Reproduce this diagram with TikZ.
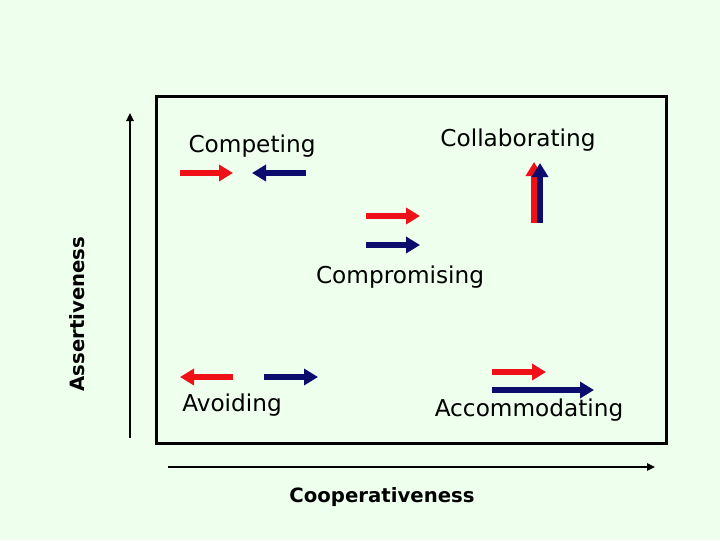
\documentclass[tikz,border=0pt]{standalone}
\usepackage{fontspec}
\setmainfont{DejaVu Sans}
\usepackage{tikz}
\usetikzlibrary{arrows.meta,positioning}
\definecolor{bgmint}{RGB}{238,255,238}
\definecolor{arrred}{RGB}{240,16,24}
\definecolor{arrblue}{RGB}{12,12,110}

\begin{document}
\begin{tikzpicture}[x=0.025cm, y=-0.025cm,
  style label/.style={inner sep=0pt, font=\fontsize{16.5}{18}\selectfont},
  axis label/.style={inner sep=0pt, font=\fontsize{14}{16}\selectfont\bfseries},
  redarr/.style={-{Triangle[length=0.35cm, width=0.4cm]}, line width=0.15cm,
    draw=arrred},
  bluearr/.style={-{Triangle[length=0.35cm, width=0.4cm]}, line width=0.15cm,
    draw=arrblue},
  axis/.style={-{Triangle[length=0.2cm, width=0.18cm]}, line width=0.07cm},
]
  \fill[bgmint] (0,0) rectangle (720,540);
  \useasboundingbox (0,0) rectangle (720,540);
  \draw[line width=0.075cm] (156,96) rectangle (666,443);

  % axes
  \coordinate (ylow) at (130,438);
  \coordinate (yhigh) at (130,113);
  \coordinate (xlow) at (168,467);
  \coordinate (xhigh) at (655,467);
  \draw[axis] (ylow) -- (yhigh);
  \draw[axis] (xlow) -- (xhigh);
  \node[axis label, rotate=90] (assert) at (77,314) {Assertiveness};
  \node[axis label] (coop) at (382,497) {Cooperativeness};

  % the five styles
  \node[style label] (competing) at (252,146) {Competing};
  \node[style label] (collab) at (518,140) {Collaborating};
  \node[style label] (compro) at (400,277) {Compromising};
  \node[style label] (avoid) at (232,405) {Avoiding};
  \node[style label] (accom) at (529,410) {Accommodating};

  \coordinate (cp1) at (180,173);
  \coordinate (cp2) at (233,173);
  \coordinate (cp3) at (306,173);
  \coordinate (cp4) at (252,173);
  \draw[redarr] (cp1) -- (cp2);
  \draw[bluearr] (cp3) -- (cp4);

  \coordinate (co1) at (534,223);
  \coordinate (co2) at (534,162);
  \coordinate (co3) at (540,223);
  \coordinate (co4) at (540,163);
  \draw[redarr] (co1) -- (co2);
  \draw[bluearr] (co3) -- (co4);

  \coordinate (cm1) at (366,216);
  \coordinate (cm2) at (420,216);
  \coordinate (cm3) at (366,245);
  \coordinate (cm4) at (420,245);
  \draw[redarr] (cm1) -- (cm2);
  \draw[bluearr] (cm3) -- (cm4);

  \coordinate (av1) at (233,377);
  \coordinate (av2) at (180,377);
  \coordinate (av3) at (264,377);
  \coordinate (av4) at (318,377);
  \draw[redarr] (av1) -- (av2);
  \draw[bluearr] (av3) -- (av4);

  \coordinate (ac1) at (492,372);
  \coordinate (ac2) at (546,372);
  \coordinate (ac3) at (492,390);
  \coordinate (ac4) at (594,390);
  \draw[redarr] (ac1) -- (ac2);
  \draw[bluearr] (ac3) -- (ac4);
\end{tikzpicture}
\end{document}
